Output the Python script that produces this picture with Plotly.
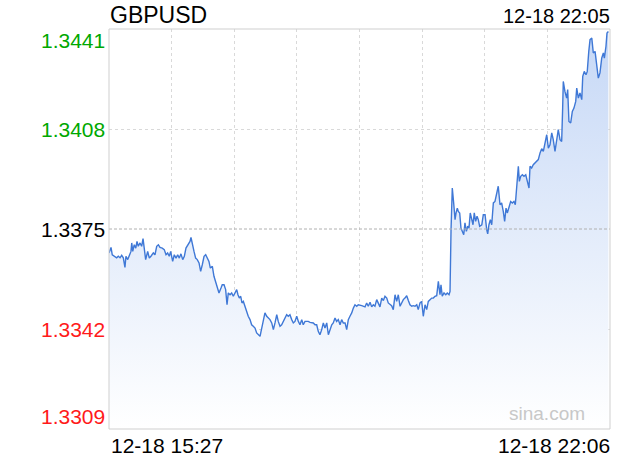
import plotly.graph_objects as go

# ---------------- data ----------------
symbol = "GBPUSD"
last_time_label = "12-18 22:05"
start_label = "12-18 15:27"
end_label = "12-18 22:06"
session_minutes = 399  # 15:27 -> 22:06

y_ticks = [1.3309, 1.3342, 1.3375, 1.3408, 1.3441]
prev_close = 1.3375

# minutes after 15:27
minutes = [
    0, 1.6, 2.6, 4.8, 6.1, 7.4, 8.8, 10.1, 11.4, 12.7, 13.5, 14.9, 15.9, 17.5, 18.1, 18.9, 20.1, 21.3, 22.3, 23.3,
    24.7, 26.0, 27.1, 28.1, 29.2, 30.8, 32.1, 33.4, 35.3, 36.6, 38.0, 39.3, 40.6, 42.4, 44.0, 45.4, 46.7, 48.0, 49.1, 50.7,
    52.0, 53.4, 54.7, 56.0, 57.3, 58.7, 60.0, 61.3, 63.2, 64.5, 65.3, 66.3, 67.7, 69.0, 70.3, 71.7, 73.0, 74.3, 75.7, 77.0,
    78.3, 79.6, 80.7, 82.3, 83.6, 85.0, 86.3, 87.6, 89.2, 90.2, 91.6, 92.9, 94.0, 95.0, 96.4, 97.7, 99.0,
    100.3, 101.7, 102.7, 103.8, 104.9, 105.9, 107.0, 108.3, 109.7, 110.9, 112.3, 113.6, 114.9, 116.3, 117.6, 118.9, 120.3,
    121.1, 122.1, 122.9, 124.2, 125.6, 126.9, 128.2, 129.6, 130.9, 132.2, 133.6, 134.8, 136.2, 137.5, 138.8, 140.2, 141.5,
    142.8, 144.1, 145.5, 146.8, 148.1, 149.5, 150.8, 152.1, 153.5, 154.7, 156.1, 157.5, 158.7, 160.1, 161.4, 162.7, 164.1,
    165.4, 166.7, 168.0, 169.4, 170.7, 172.0, 173.4, 174.7, 176.0, 177.4, 178.6, 180.0, 181.3, 182.6, 184.0, 185.3, 186.6,
    188.0, 189.3, 190.6, 191.9, 193.3, 194.6, 195.9, 197.3, 198.5,
    201.3, 203.9, 205.2, 206.5, 207.9, 209.2, 210.5, 211.8, 213.2, 214.5, 215.8, 217.2, 218.5, 219.8, 221.2, 222.4, 223.8,
    225.1, 226.4, 227.8, 229.1, 230.4, 231.8, 233.1, 234.4, 235.7, 237.1, 238.4, 239.7, 241.1, 242.3, 243.7, 245.1, 246.3,
    247.7, 249.0, 250.3, 251.7, 253.0, 254.3, 255.6, 257.0, 258.3, 259.6, 261.0, 262.3, 263.6, 264.4, 265.4, 266.8, 268.2,
    269.4, 270.8, 271.6, 272.4, 273.4, 274.5, 275.6, 276.4, 277.4, 278.2, 279.3, 280.3, 281.4, 282.5, 283.5, 284.6, 285.7,
    286.7, 287.7, 288.9, 289.9, 290.9, 292.0, 293.1, 294.1, 295.2,
    296.9, 298.1, 299.5, 300.8, 301.6, 302.6, 303.7, 304.8, 306.1, 307.4, 308.8, 310.0, 311.4, 312.7, 314.0, 315.1, 316.2,
    317.2, 318.8, 319.9, 321.2, 322.5, 323.6, 324.7, 326.0, 326.8, 327.9, 329.2, 330.5, 331.9, 333.1, 334.5, 335.3, 336.6,
    337.9, 339.3, 340.6, 341.9, 343.3, 344.6, 345.9, 347.2, 348.6, 349.9, 351.2, 352.6, 353.8, 355.2, 356.6, 357.8, 359.2,
    360.5, 361.3, 361.8, 363.1, 364.5, 365.3, 366.3, 367.7, 369.0, 370.3, 371.7, 372.5, 373.8, 375.1, 376.5, 377.3, 378.5,
    379.9, 380.9, 382.1, 383.1, 384.5, 385.7, 387.1, 388.4, 389.7, 391.0, 392.4, 393.7, 394.5, 395.8, 396.6, 397.7,
]

prices = [
    1.33671, 1.33689, 1.33665, 1.33660, 1.33655, 1.33660, 1.33655, 1.33663, 1.33655, 1.33623, 1.33660, 1.33649, 1.33660,
    1.33676, 1.33704, 1.33676, 1.33698, 1.33687, 1.33709, 1.33693, 1.33704, 1.33693, 1.33718, 1.33676, 1.33649, 1.33676,
    1.33654, 1.33660, 1.33671, 1.33665, 1.33693, 1.33698, 1.33689, 1.33687, 1.33682, 1.33665, 1.33671, 1.33660, 1.33676,
    1.33643, 1.33665, 1.33654, 1.33665, 1.33654, 1.33668, 1.33649, 1.33660, 1.33687, 1.33698, 1.33709, 1.33722, 1.33698,
    1.33676, 1.33654, 1.33649, 1.33638, 1.33610, 1.33632, 1.33660, 1.33665, 1.33654, 1.33643, 1.33621, 1.33627, 1.33594,
    1.33577, 1.33555, 1.33539, 1.33555, 1.33566, 1.33566, 1.33550, 1.33500, 1.33539, 1.33533, 1.33539, 1.33528,
    1.33539, 1.33550, 1.33533, 1.33522, 1.33528, 1.33506, 1.33511, 1.33495, 1.33473, 1.33462, 1.33451, 1.33434, 1.33429,
    1.33423, 1.33407, 1.33401, 1.33396, 1.33412, 1.33434, 1.33440, 1.33473, 1.33462, 1.33456, 1.33451, 1.33440, 1.33418,
    1.33440, 1.33467, 1.33445, 1.33429, 1.33434, 1.33445, 1.33456, 1.33467, 1.33462, 1.33467, 1.33451, 1.33440, 1.33445,
    1.33462, 1.33445, 1.33434, 1.33451, 1.33434, 1.33445, 1.33445, 1.33445, 1.33442, 1.33440, 1.33440, 1.33434, 1.33434,
    1.33412, 1.33401, 1.33418, 1.33440, 1.33423, 1.33440, 1.33401, 1.33418, 1.33434, 1.33440, 1.33456, 1.33445, 1.33451,
    1.33434, 1.33451, 1.33440, 1.33440, 1.33418, 1.33451, 1.33462, 1.33473, 1.33489, 1.33500, 1.33495, 1.33500,
    1.33497, 1.33493, 1.33506, 1.33495, 1.33508, 1.33493, 1.33500, 1.33495, 1.33517, 1.33506, 1.33493, 1.33522, 1.33514,
    1.33528, 1.33522, 1.33506, 1.33500, 1.33497, 1.33484, 1.33533, 1.33511, 1.33533, 1.33495, 1.33506, 1.33517, 1.33522,
    1.33530, 1.33514, 1.33500, 1.33495, 1.33497, 1.33495, 1.33500, 1.33484, 1.33506, 1.33511, 1.33462, 1.33500, 1.33484,
    1.33511, 1.33517, 1.33522, 1.33522, 1.33528, 1.33530, 1.33577, 1.33533, 1.33566, 1.33528, 1.33539, 1.33533, 1.33539,
    1.33533, 1.33544, 1.33748, 1.33885, 1.33836, 1.33781, 1.33803, 1.33819, 1.33808, 1.33803, 1.33753, 1.33742, 1.33731,
    1.33770, 1.33742, 1.33759, 1.33753, 1.33803, 1.33775, 1.33764, 1.33803, 1.33775, 1.33792, 1.33781, 1.33759,
    1.33764, 1.33797, 1.33797, 1.33748, 1.33734, 1.33764, 1.33781, 1.33764, 1.33836, 1.33841, 1.33874, 1.33891, 1.33830,
    1.33836, 1.33808, 1.33775, 1.33819, 1.33803, 1.33825, 1.33841, 1.33836, 1.33841, 1.33830, 1.33902, 1.33957, 1.33907,
    1.33924, 1.33929, 1.33924, 1.33929, 1.33907, 1.33885, 1.33957, 1.33951, 1.33962, 1.33968, 1.33973, 1.33979, 1.34001,
    1.34015, 1.34006, 1.34039, 1.34061, 1.34017, 1.34028, 1.34067, 1.34045, 1.34006, 1.34050, 1.34078, 1.34045, 1.34039,
    1.34149, 1.34237, 1.34204, 1.34182, 1.34210, 1.34105, 1.34100, 1.34138, 1.34149, 1.34171, 1.34215, 1.34182, 1.34199,
    1.34177, 1.34254, 1.34270, 1.34259, 1.34270, 1.34336, 1.34375, 1.34380, 1.34331, 1.34336, 1.34292, 1.34248, 1.34265,
    1.34314, 1.34331, 1.34314, 1.34353, 1.34397, 1.34402,
]

# ---------------- styles ----------------
FONT = "Liberation Sans, Arial, Helvetica, sans-serif"
LINE_COLOR = "#3f78d6"
GREEN = "#00a800"
RED = "#ff1a1a"
GRID = "#d9d9d9"

fig = go.Figure()
fig.add_trace(go.Scatter(
    x=minutes, y=prices, mode="lines",
    line=dict(color=LINE_COLOR, width=1.4),
    fill="tozeroy",
    fillgradient=dict(type="vertical", start=y_ticks[0], stop=y_ticks[-1],
                      colorscale=[[0, "rgba(255,255,255,1)"], [1, "rgb(198,216,246)"]]),
    hoverinfo="skip", showlegend=False,
))

n_div = 8
fig.update_xaxes(
    range=[0, session_minutes],
    tickvals=[session_minutes * i / n_div for i in range(1, n_div)],
    showticklabels=False, ticks="", showgrid=True, gridcolor=GRID, griddash="dot", gridwidth=1,
    zeroline=False, showline=False, fixedrange=True,
)
fig.update_yaxes(
    range=[y_ticks[0], y_ticks[-1]],
    tickvals=[v for v in y_ticks[1:-1] if v != prev_close],
    showticklabels=False, ticks="", showgrid=True, gridcolor=GRID, griddash="dot", gridwidth=1,
    zeroline=False, showline=False, fixedrange=True,
)

# previous close line
fig.add_shape(type="line", xref="paper", x0=0, x1=1, yref="y", y0=prev_close, y1=prev_close,
              line=dict(color="#b0b0b0", width=1, dash="3px,2px"), layer="above")
# plot border
fig.add_shape(type="rect", xref="paper", yref="paper", x0=0, x1=1, y0=0, y1=1,
              line=dict(color="#cfcfcf", width=1), layer="above")

annotations = []
for i, v in enumerate(y_ticks):
    color = GREEN if v > prev_close else (RED if v < prev_close else "#000000")
    shift = 0
    if i == len(y_ticks) - 1:
        shift = -11
    elif i == 0:
        shift = 13
    annotations.append(dict(
        xref="paper", yref="y", x=0, y=v, xanchor="right", yanchor="middle",
        xshift=-2, yshift=shift, text=f"{v:.4f}", showarrow=False,
        font=dict(family=FONT, size=21, color=color),
    ))

annotations += [
    dict(xref="paper", yref="paper", x=0, y=1.034, xanchor="left", yanchor="middle", xshift=-1,
         text=symbol, showarrow=False, font=dict(family=FONT, size=23, color="#000")),
    dict(xref="paper", yref="paper", x=1, y=1.032, xanchor="right", yanchor="middle", xshift=2,
         text=last_time_label, showarrow=False, font=dict(family=FONT, size=20, color="#000")),
    dict(xref="paper", yref="paper", x=0, y=-0.042, xanchor="left", yanchor="middle",
         text=start_label, showarrow=False, font=dict(family=FONT, size=21, color="#000")),
    dict(xref="paper", yref="paper", x=1, y=-0.042, xanchor="right", yanchor="middle", xshift=2,
         text=end_label, showarrow=False, font=dict(family=FONT, size=21, color="#000")),
    dict(xref="paper", yref="paper", x=0.874, y=0.04, xanchor="center", yanchor="middle",
         text="sina.com", showarrow=False, font=dict(family=FONT, size=19, color="#c8c8c8")),
]

fig.update_layout(
    width=620, height=460,
    margin=dict(l=109, r=10, t=29, b=31, pad=0),
    paper_bgcolor="white", plot_bgcolor="white",
    annotations=annotations,
    showlegend=False,
)

# remove the default 8px page margin so the figure fills the window exactly
fig.write_html("out.html", config={"displayModeBar": False},
               post_script="document.body.style.margin='0';")
